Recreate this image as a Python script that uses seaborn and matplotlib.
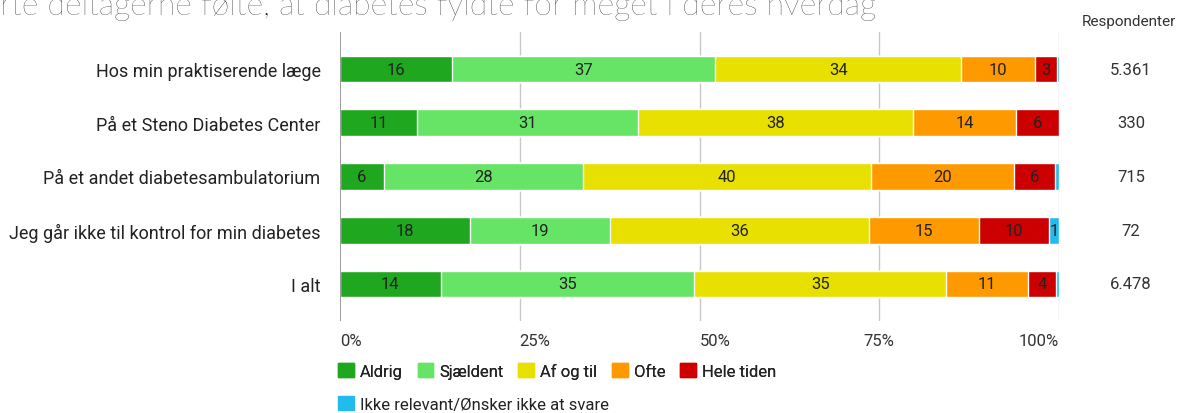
import matplotlib
matplotlib.use("Agg")
import matplotlib.pyplot as plt
import seaborn as sns
import numpy as np
import pandas as pd
from matplotlib.patches import Patch

# Data (percent shares per place of control)
places = ["Hos min praktiserende læge", "På et Steno Diabetes Center",
          "På et andet diabetesambulatorium", "Jeg går ikke til kontrol for min diabetes",
          "I alt"]
respondents = ["5.361", "330", "715", "72", "6.478"]
answers = ["Aldrig", "Sjældent", "Af og til", "Ofte", "Hele tiden",
           "Ikke relevant/Ønsker ikke at svare"]
aldrig = [15.6, 10.7, 6.1, 18.1, 14.0]
sjaeldent = [36.6, 30.7, 27.7, 19.4, 35.3]
af_og_til = [34.2, 38.3, 40.1, 36.1, 35.0]
ofte = [10.3, 14.3, 19.9, 15.3, 11.4]
hele_tiden = [3.0, 6.0, 5.7, 9.7, 3.9]
ikke_relevant = [0.3, 0.0, 0.5, 1.4, 0.4]
colors = ["#1fa81f", "#66e466", "#e8e000", "#ff9900", "#cc0000", "#22bbee"]

sns.set_theme(style="white")
plt.rcParams["font.family"] = ["Roboto", "DejaVu Sans"]

series = [aldrig, sjaeldent, af_og_til, ofte, hele_tiden, ikke_relevant]
df = pd.DataFrame({a: s for a, s in zip(answers, series)}, index=places)
cum = df.cumsum(axis=1)

fig = plt.figure(figsize=(11.95, 4.14), dpi=100)
ax = fig.add_axes([340 / 1195, 1 - 322 / 414, 719 / 1195, 289 / 414])

for x in [25, 50, 75, 100]:
    ax.axvline(x, color="#c8c8c8", lw=1, zorder=0)
ax.axvline(0, color="#8a8a8a", lw=1.2, zorder=3)

# draw cumulative totals from the outermost category inward
for i in range(len(answers) - 1, -1, -1):
    plot_df = pd.DataFrame({"place": places, "value": cum[answers[i]].values})
    sns.barplot(data=plot_df, x="value", y="place", color=colors[i], width=0.5,
                saturation=1, ax=ax, orient="h", zorder=2)

for r, place in enumerate(places):
    for i, a in enumerate(answers):
        v = df.loc[place, a]
        if round(v) < 1:
            continue
        center = cum.loc[place, a] - v / 2
        ax.text(center, r, f"{v:.0f}", ha="center", va="center",
                fontsize=12, color="#222222", zorder=4)
    ax.text(1.1, r, respondents[r], transform=ax.get_yaxis_transform(),
            ha="center", va="center", fontsize=12, color="#333333")

ax.text(1.097, 1.015, "Respondenter", transform=ax.transAxes, ha="center",
        va="bottom", fontsize=11, color="#333333")

ax.set_xlim(0, 100)
ax.set_ylim(4.69, -0.69)
ax.set_xlabel("")
ax.set_ylabel("")
ax.set_xticks([0, 25, 50, 75, 100])
ax.set_xticklabels(["0%", "25%", "50%", "75%", "100%"])
for lbl, ha in zip(ax.get_xticklabels(), ["left", "left", "left", "center", "right"]):
    lbl.set_ha(ha)
ax.tick_params(axis="x", length=0, pad=9, labelsize=12, labelcolor="#333333")
ax.tick_params(axis="y", length=0, pad=14, labelsize=13, labelcolor="#222222")
for s in ax.spines.values():
    s.set_visible(False)

fig.text(0.0, 1 - 15 / 414, "rte deltagerne følte, at diabetes fyldte for meget i deres hverdag",
         fontsize=23, fontweight="light", family=["Lato", "DejaVu Sans"],
         color="#1a1a1a", ha="left", va="baseline")

handles = [Patch(facecolor=c, edgecolor=c, label=a) for c, a in zip(colors, answers)]
leg_kw = dict(frameon=False, fontsize=12, handlelength=0.95, handleheight=0.95,
              handletextpad=0.35, columnspacing=0.9, borderpad=0, borderaxespad=0,
              labelcolor="#222222")
leg1 = fig.legend(handles=handles[:5], ncol=5, loc="upper left",
                  bbox_to_anchor=(338 / 1195, 1 - 364 / 414), **leg_kw)
fig.add_artist(leg1)
fig.legend(handles=handles[5:], ncol=1, loc="upper left",
           bbox_to_anchor=(338 / 1195, 1 - 397 / 414), **leg_kw)

fig.savefig("out.png", dpi=100)
